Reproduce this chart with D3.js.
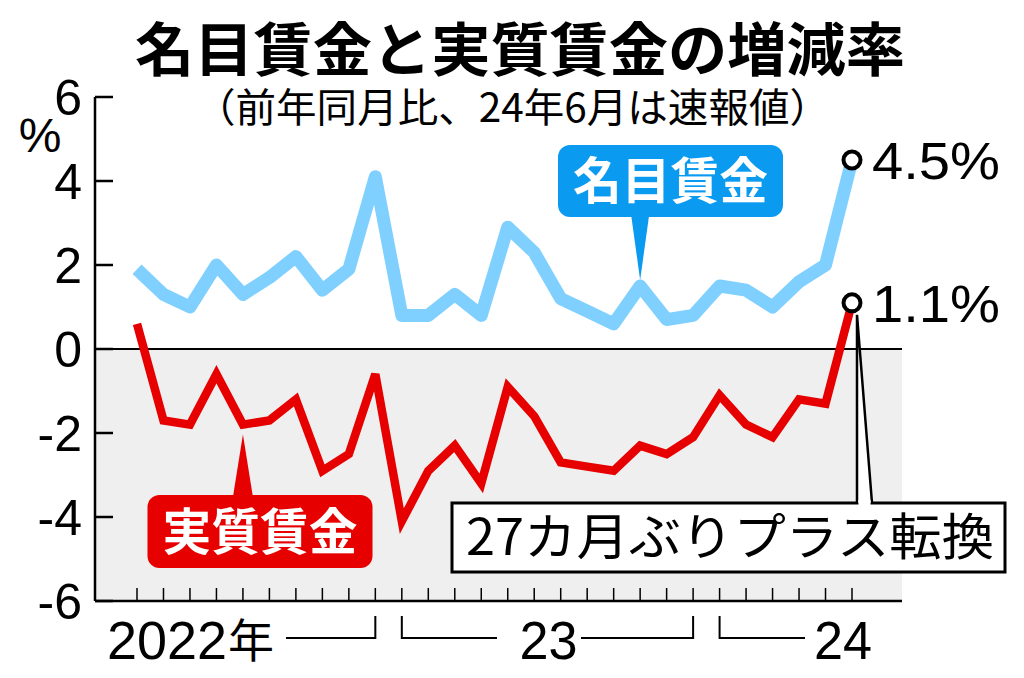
<!DOCTYPE html>
<html><head><meta charset="utf-8">
<script src="https://cdn.jsdelivr.net/npm/d3@7"></script>
<style>
html,body{margin:0;padding:0;background:#fff;}
svg{display:block;}
</style></head>
<body>
<script>
// ---- data ----
const months = ["2022-03","2022-04","2022-05","2022-06","2022-07","2022-08","2022-09","2022-10","2022-11","2022-12",
  "2023-01","2023-02","2023-03","2023-04","2023-05","2023-06","2023-07","2023-08","2023-09","2023-10","2023-11","2023-12",
  "2024-01","2024-02","2024-03","2024-04","2024-05","2024-06"];
const nominal = [1.9,1.3,1.0,2.0,1.3,1.7,2.2,1.4,1.9,4.1,
  0.8,0.8,1.3,0.8,2.9,2.3,1.2,0.9,0.6,1.5,0.7,0.8,
  1.5,1.4,1.0,1.6,2.0,4.5];
const real = [0.6,-1.7,-1.8,-0.6,-1.8,-1.7,-1.2,-2.9,-2.5,-0.6,
  -4.1,-2.9,-2.3,-3.2,-0.9,-1.6,-2.7,-2.8,-2.9,-2.3,-2.5,-2.1,
  -1.1,-1.8,-2.1,-1.2,-1.3,1.1];
const yTicks = [6,4,2,0,-2,-4,-6];
const yearLabels = ["2022年","23","24"];
const titleText = "名目賃金と実質賃金の増減率";
const subtitleText = "（前年同月比、24年6月は速報値）";
const nominalName = "名目賃金";
const realName = "実質賃金";
const calloutText = "27カ月ぶりプラス転換";

// ---- layout ----
const W = 1024, H = 678;
const L = 95, R = 902, T = 97, B = 601;
const svg = d3.select("body").append("svg").attr("width", W).attr("height", H);
const x = d3.scalePoint().domain(months).range([137, 852]);
const y = d3.scaleLinear().domain([-6, 6]).range([B, T]);
const JP = "'Noto Sans CJK JP','Noto Sans',sans-serif";
const LAT = "'Liberation Sans',Arial,sans-serif";

// gray negative area
svg.append("rect").attr("x", L).attr("y", y(0)).attr("width", R - L).attr("height", y(-6) - y(0)).attr("fill", "#efefef");

// title
svg.append("text").attr("x", 135).attr("y", 71).attr("font-family", JP).attr("font-weight", 700)
  .attr("font-size", 58).attr("textLength", 770).attr("lengthAdjust", "spacingAndGlyphs").text(titleText);
svg.append("text").attr("x", 195).attr("y", 122).attr("font-family", JP).attr("font-weight", 400)
  .attr("font-size", 40).attr("textLength", 635).attr("lengthAdjust", "spacingAndGlyphs").text(subtitleText);

// y axis
svg.append("line").attr("x1", L).attr("x2", L).attr("y1", T).attr("y2", B).attr("stroke", "#000").attr("stroke-width", 2.5);
svg.append("line").attr("x1", L).attr("x2", R).attr("y1", y(0)).attr("y2", y(0)).attr("stroke", "#000").attr("stroke-width", 2);
svg.append("line").attr("x1", L).attr("x2", R).attr("y1", B).attr("y2", B).attr("stroke", "#000").attr("stroke-width", 2.5);
svg.selectAll(".yt").data(yTicks).enter().append("line")
  .attr("x1", L).attr("x2", L + 18).attr("y1", d => y(d)).attr("y2", d => y(d)).attr("stroke", "#000").attr("stroke-width", 2.5);
svg.selectAll(".yl").data(yTicks).enter().append("text")
  .attr("x", 82).attr("y", d => y(d) + 18).attr("text-anchor", "end")
  .attr("font-family", LAT).attr("font-size", 50).text(d => d < 0 ? "-" + Math.abs(d) : d);
svg.append("text").attr("x", 40).attr("y", 152).attr("text-anchor", "middle")
  .attr("font-family", LAT).attr("font-size", 48).text("%");

// x ticks
svg.selectAll(".xt").data(months).enter().append("line")
  .attr("x1", d => x(d)).attr("x2", d => x(d)).attr("y1", B).attr("y2", B - 13).attr("stroke", "#000").attr("stroke-width", 1.5);

// year labels & brackets
const br = (pts) => svg.append("path").attr("d", d3.line()(pts)).attr("fill", "none").attr("stroke", "#000").attr("stroke-width", 2);
svg.append("text").attr("x", 107).attr("y", 659).attr("font-family", LAT).attr("font-size", 54)
  .attr("textLength", 120).attr("lengthAdjust", "spacingAndGlyphs").text(yearLabels[0].slice(0, 4));
svg.append("text").attr("x", 228).attr("y", 657).attr("font-family", JP).attr("font-size", 46).text(yearLabels[0].slice(4));
const x22 = x("2022-12"), x23a = x("2023-01"), x23b = x("2023-12"), x24 = x("2024-01");
br([[286, 638], [x22, 638], [x22, 616]]);
br([[x23a, 616], [x23a, 638], [497, 638]]);
svg.append("text").attr("x", (x23a + x23b) / 2 + 1).attr("y", 659).attr("text-anchor", "middle")
  .attr("font-family", LAT).attr("font-size", 54).attr("textLength", 58).attr("lengthAdjust", "spacingAndGlyphs").text(yearLabels[1]);
br([[581, 638], [x23b, 638], [x23b, 616]]);
br([[x24, 616], [x24, 638], [805, 638]]);
svg.append("text").attr("x", 843).attr("y", 659).attr("text-anchor", "middle")
  .attr("font-family", LAT).attr("font-size", 54).attr("textLength", 58).attr("lengthAdjust", "spacingAndGlyphs").text(yearLabels[2]);

// lines
const line = d3.line().x((d, i) => x(months[i])).y(d => y(d));
svg.append("path").datum(nominal).attr("d", line).attr("fill", "none").attr("stroke", "#80d0ff")
  .attr("stroke-width", 13).attr("stroke-linejoin", "round");
svg.append("path").datum(real).attr("d", line).attr("fill", "none").attr("stroke", "#e60000")
  .attr("stroke-width", 8.5).attr("stroke-linejoin", "miter");

// callout box with pointer
const lastM = months[months.length - 1];
const px = x(lastM) + 5;
svg.append("rect").attr("x", 452).attr("y", 503).attr("width", 553).attr("height", 69)
  .attr("fill", "#fff").attr("stroke", "#000").attr("stroke-width", 3);
svg.append("path").attr("d", `M${px},503 L${px},${y(real[real.length - 1]) + 12} L${px + 15},503`)
  .attr("fill", "#fff").attr("stroke", "#000").attr("stroke-width", 2.5);
svg.append("rect").attr("x", px + 1.5).attr("y", 500).attr("width", 12).attr("height", 5).attr("fill", "#fff");
svg.append("text").attr("x", 466).attr("y", 555).attr("font-family", JP).attr("font-size", 50)
  .attr("textLength", 528).attr("lengthAdjust", "spacingAndGlyphs").text(calloutText);

// end markers
[[nominal, "4.5%"], [real, "1.1%"]].forEach(([arr, lab]) => {
  const v = arr[arr.length - 1];
  svg.append("circle").attr("cx", x(lastM)).attr("cy", y(v)).attr("r", 8.5)
    .attr("fill", "#fff").attr("stroke", "#000").attr("stroke-width", 4);
  svg.append("text").attr("x", 872).attr("y", y(v) + 19).attr("font-family", LAT).attr("font-size", 52)
    .attr("textLength", 128).attr("lengthAdjust", "spacingAndGlyphs").text(v.toFixed(1) + "%");
});

// series labels
function bubble(cx, top, w, h, color, text, apexX, apexY, pointerDown) {
  const bx = cx - w / 2;
  if (pointerDown) {
    svg.append("path").attr("d", `M${apexX - 9},${top + h - 2} L${apexX},${apexY} L${apexX + 9},${top + h - 2}Z`).attr("fill", color);
  } else {
    svg.append("path").attr("d", `M${apexX - 10},${top + 2} L${apexX},${apexY} L${apexX + 10},${top + 2}Z`).attr("fill", color);
  }
  svg.append("rect").attr("x", bx).attr("y", top).attr("width", w).attr("height", h).attr("rx", 12).attr("fill", color);
  svg.append("text").attr("x", cx).attr("y", top + h / 2 + 18).attr("text-anchor", "middle")
    .attr("font-family", JP).attr("font-weight", 700).attr("font-size", 50).attr("fill", "#fff")
    .attr("textLength", 195).attr("lengthAdjust", "spacingAndGlyphs").text(text);
}
bubble(670.5, 145, 225, 72, "#0a9af0", nominalName, x("2023-10"), y(nominal[19]) - 6, true);
bubble(260, 495, 225, 73, "#e60000", realName, x("2022-07"), y(real[4]) + 10, false);
</script>
</body></html>
